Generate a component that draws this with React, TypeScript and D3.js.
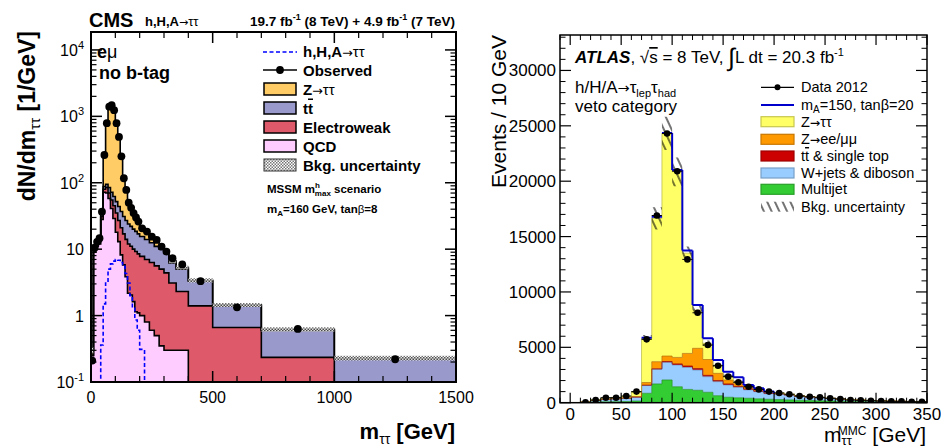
import React from "react";
import * as d3 from "d3";

// ---------------- CMS panel (left) ----------------
const cmsEdges = [0, 10, 20, 30, 40, 50, 60, 70, 80, 90, 100, 110, 120, 130, 140, 150, 160, 170, 180, 190, 200, 220, 240, 260, 280, 300, 320, 350, 400, 500, 700, 1000, 1500];
const cmsData = [0.21, 10.5, 12.9, 14.6, 36.7, 262, 790, 1400, 1470, 1240, 790, 490, 250, 117, 78, 50, 42, 35, 30, 26, 20.6, 18.4, 15.4, 13.8, 10.9, 9.2, 7.3, 5.9, 3.3, 1.33, 0.63, 0.22];
const cmsQCD = [0.25, 9, 11, 12, 28, 72, 70, 58, 41, 29, 18, 13, 8.2, 5.8, 3.85, 2.17, 2.04, 1.62, 1.14, 1.1, 1.0, 0.8, 0.6, 0.5, 0.35, 0.3, 0.3, 0.3, 0, 0, 0, 0];
const cmsEWK = [0, 0.6, 0.8, 1.0, 3, 8, 15, 12, 14, 16, 17, 14, 12.8, 11.2, 10.2, 9.8, 9.0, 8.4, 8.1, 7.4, 6.8, 6.2, 5.7, 5.1, 4.65, 4.1, 2.8, 2.0, 1.4, 0.66, 0.235, 0.02];
const cmsTT = [0, 0.4, 0.6, 1.0, 3, 8, 10, 15, 17, 17, 17, 17, 16, 14, 13, 12, 11, 10, 9.3, 8.5, 7.7, 7.0, 6.2, 5.4, 5.0, 4.4, 3.1, 2.7, 1.9, 0.74, 0.365, 0.2];
const cmsZTT = [0.05, 0.5, 0.6, 1.0, 4, 162, 705, 1295, 1378, 1168, 748, 436, 213, 89, 51, 28, 20, 15, 11.5, 8, 5.5, 4, 3, 2.5, 1.5, 0.8, 0.4, 0.3, 0.1, 0.05, 0.02, 0.01];
const cmsSignal = [0.01, 0.01, 0.01, 0.01, 0.36, 1.5, 3.1, 5.0, 6.0, 6.6, 7.0, 6.8, 6.3, 5.5, 4.3, 3.1, 2.0, 1.3, 0.86, 0.6, 0.31, 0.01, 0.01, 0.01, 0.01, 0.01, 0.01, 0.01, 0.01, 0.01, 0.01, 0.01];
const cmsUncFrac = [0.1, 0.06, 0.06, 0.06, 0.05, 0.04, 0.03, 0.03, 0.03, 0.03, 0.03, 0.03, 0.04, 0.04, 0.05, 0.05, 0.05, 0.05, 0.05, 0.05, 0.06, 0.06, 0.06, 0.06, 0.07, 0.07, 0.07, 0.07, 0.07, 0.07, 0.08, 0.08];
const cmsXTicks = [0, 500, 1000, 1500];
const cmsYExps = [-1, 0, 1, 2, 3, 4];
const cmsColors = ["#ffccff", "#de5a6a", "#9999cc", "#ffcc66"];

// ---------------- ATLAS panel (right) ----------------
const atlasEdges = [0, 10, 20, 30, 40, 50, 60, 70, 80, 90, 100, 110, 120, 130, 140, 150, 160, 170, 180, 190, 200, 210, 220, 230, 240, 250, 260, 270, 280, 290, 300, 310, 320, 330, 340, 350];
const atlasData = [null, 30, 240, 450, 450, 600, 1000, 5720, 16900, 24300, 20900, 12940, 8120, 5210, 3340, 2350, 1840, 1440, 1200, 1000, 880, 760, 600, 540, 480, 400, 340, 240, 210, 180, 150, 120, 120, 90, 90];
const atlasMultijet = [0, 30, 60, 80, 90, 110, 150, 850, 1690, 2050, 1440, 1200, 1120, 940, 630, 490, 440, 400, 350, 310, 280, 250, 220, 190, 170, 150, 130, 110, 100, 90, 80, 70, 60, 55, 50];
const atlasWjets = [10, 40, 140, 240, 260, 290, 350, 700, 1320, 1590, 1960, 1990, 1830, 1410, 1270, 1110, 950, 760, 640, 505, 475, 415, 333, 295, 254, 204, 173, 141, 117, 91, 76, 60, 52, 40, 37];
const atlasTop = [0, 0, 0, 0, 0, 5, 10, 30, 50, 80, 100, 120, 130, 120, 100, 90, 80, 70, 60, 50, 45, 40, 35, 30, 28, 25, 22, 20, 18, 16, 14, 12, 11, 10, 9];
const atlasZll = [0, 0, 0, 10, 20, 30, 50, 240, 640, 490, 590, 1140, 1830, 1430, 650, 360, 280, 200, 150, 100, 60, 50, 40, 35, 30, 25, 20, 15, 12, 10, 8, 6, 5, 4, 3];
const atlasZtt = [10, 10, 80, 90, 110, 165, 430, 3990, 12940, 20100, 16760, 9050, 3460, 1460, 750, 360, 150, 40, 30, 25, 20, 15, 12, 10, 8, 6, 5, 4, 3, 3, 2, 2, 2, 1, 1];
const atlasSignal = [0, 0, 0, 0, 0, 0, 0, 50, 150, 50, 150, 250, 450, 450, 450, 390, 390, 130, 80, 30, 0, 0, 0, 0, 0, 0, 0, 0, 0, 0, 0, 0, 0, 0, 0];
const atlasUnc = [5, 10, 20, 25, 30, 40, 60, 300, 1000, 1500, 1300, 600, 400, 250, 180, 120, 90, 70, 60, 50, 40, 35, 30, 25, 20, 18, 15, 12, 10, 9, 8, 7, 6, 5, 5];
const atlasXTicks = [0, 50, 100, 150, 200, 250, 300, 350];
const atlasYTicks = [0, 5000, 10000, 15000, 20000, 25000, 30000];
const atlasColors = ["#33cc33", "#99ccff", "#cc0000", "#ff9900", "#ffff66"];

const FONT = "'Liberation Sans', Arial, Helvetica, sans-serif";
const SYM = "'DejaVu Sans', sans-serif";

type Scale = (v: number) => number;

function stackLayers(layers: number[][]) {
  const out: [number[], number[]][] = [];
  let acc = layers[0].map(() => 0);
  for (const l of layers) {
    const hi = acc.map((a, i) => a + l[i]);
    out.push([acc, hi]);
    acc = hi;
  }
  return out;
}

function stepArea(edges: number[], lo: number[], hi: number[], x: Scale, y: Scale) {
  const pts = edges.map((e, i) => {
    const j = Math.min(i, lo.length - 1);
    return [e, lo[j], hi[j]];
  });
  return d3
    .area<number[]>()
    .x((d) => x(d[0]))
    .y0((d) => y(d[1]))
    .y1((d) => y(d[2]))
    .curve(d3.curveStepAfter)(pts) as string;
}

function stepLine(edges: number[], vals: number[], x: Scale, y: Scale, base: number) {
  const pts: number[][] = [[edges[0], base]];
  edges.forEach((e, i) => pts.push([e, vals[Math.min(i, vals.length - 1)]]));
  pts.push([edges[edges.length - 1], base]);
  return d3
    .line<number[]>()
    .x((d) => x(d[0]))
    .y((d) => y(d[1]))
    .curve(d3.curveStepAfter)(pts) as string;
}

const Arrow = ({ size }: { size: number }) => (
  <tspan fontFamily={SYM} fontWeight="normal" fontSize={size * 0.85}>{"\u2192"}</tspan>
);

function CMSPanel() {
  const L = 91, R = 456, T = 32, B = 382;
  const x = d3.scaleLinear().domain([0, 1500]).range([L, R]);
  const yLog = d3.scaleLog().domain([0.1, Math.pow(10, 4.27)]).range([B, T]).clamp(true);
  const y = (v: number) => yLog(Math.max(v, 0.001));
  const stacks = stackLayers([cmsQCD, cmsEWK, cmsTT, cmsZTT]);
  const total = stacks[stacks.length - 1][1];
  const uncLo = total.map((t, i) => t * (1 - cmsUncFrac[i]));
  const uncHi = total.map((t, i) => t * (1 + cmsUncFrac[i]));
  const centers = cmsData.map((_, i) => (cmsEdges[i] + cmsEdges[i + 1]) / 2);

  const minorY: number[] = [];
  for (let e = -1; e <= 4; e++) for (let k = 2; k <= 9; k++) {
    const v = k * Math.pow(10, e);
    if (v < Math.pow(10, 4.27)) minorY.push(v);
  }
  const minorX: number[] = [];
  for (let v = 100; v < 1500; v += 100) if (v % 500 !== 0) minorX.push(v);

  const legendBoxes = [
    { key: "ztt", color: cmsColors[3], cy: 89 },
    { key: "tt", color: cmsColors[2], cy: 108 },
    { key: "ewk", color: cmsColors[1], cy: 127 },
    { key: "qcd", color: cmsColors[0], cy: 146 },
  ];
  const label = (k: string) => {
    if (k === "ztt") return <>Z<Arrow size={15} /><tspan fontWeight="normal">{"\u03c4\u03c4"}</tspan></>;
    if (k === "tt") return <>t<tspan style={{ textDecoration: "overline" }}>t</tspan></>;
    if (k === "ewk") return "Electroweak";
    return "QCD";
  };

  return (
    <g fontFamily={FONT}>
      <defs>
        <clipPath id="cmsClip"><rect x={L} y={T} width={R - L} height={B - T} /></clipPath>
        <pattern id="cmsHatch" width="3" height="3" patternUnits="userSpaceOnUse">
          <rect width="3" height="3" fill="#ffffff" />
          <rect width="1.5" height="1.5" fill="#555" />
          <rect x="1.5" y="1.5" width="1.5" height="1.5" fill="#555" />
        </pattern>
      </defs>
      <g clipPath="url(#cmsClip)">
        {stacks.map(([lo, hi], k) => (
          <path key={"a" + k} d={stepArea(cmsEdges, lo, hi, x, y)} fill={cmsColors[k]} stroke="none" />
        ))}
        {stacks.map(([, hi], k) => (
          <path key={"l" + k} d={stepLine(cmsEdges, hi, x, y, 0.001)} fill="none" stroke="#000" strokeWidth={1.6} />
        ))}
        <path d={stepArea(cmsEdges, uncLo, uncHi, x, y)} fill="url(#cmsHatch)" stroke="none" opacity={0.85} />
        <path d={stepLine(cmsEdges, cmsSignal, x, y, 0.001)} fill="none" stroke="#0000ff" strokeWidth={1.6} strokeDasharray="4,2.5" />
        {cmsData.map((v, i) => (
          <circle key={"d" + i} cx={x(centers[i])} cy={y(v)} r={3.9} fill="#000" />
        ))}
      </g>
      <rect x={L} y={T} width={R - L} height={B - T} fill="none" stroke="#000" strokeWidth={2} />
      {cmsYExps.map((e) => {
        const yy = y(Math.pow(10, e));
        return (
          <g key={"ty" + e}>
            <line x1={L} x2={L + 11} y1={yy} y2={yy} stroke="#000" strokeWidth={1.5} />
            <line x1={R} x2={R - 11} y1={yy} y2={yy} stroke="#000" strokeWidth={1.5} />
          </g>
        );
      })}
      {minorY.map((v, i) => {
        const yy = y(v);
        return (
          <g key={"my" + i}>
            <line x1={L} x2={L + 5.5} y1={yy} y2={yy} stroke="#000" strokeWidth={1.2} />
            <line x1={R} x2={R - 5.5} y1={yy} y2={yy} stroke="#000" strokeWidth={1.2} />
          </g>
        );
      })}
      {cmsXTicks.map((v) => (
        <g key={"tx" + v}>
          <line x1={x(v)} x2={x(v)} y1={B} y2={B - 11} stroke="#000" strokeWidth={1.5} />
          <line x1={x(v)} x2={x(v)} y1={T} y2={T + 11} stroke="#000" strokeWidth={1.5} />
          <text x={x(v)} y={403} fontSize={16} textAnchor="middle">{v}</text>
        </g>
      ))}
      {minorX.map((v) => (
        <g key={"mx" + v}>
          <line x1={x(v)} x2={x(v)} y1={B} y2={B - 6} stroke="#000" strokeWidth={1.2} />
          <line x1={x(v)} x2={x(v)} y1={T} y2={T + 6} stroke="#000" strokeWidth={1.2} />
        </g>
      ))}
      {cmsYExps.map((e) => (
        <text key={"yl" + e} x={84} y={y(Math.pow(10, e)) + 6} fontSize={16} textAnchor="end">
          {e === 0 ? "1" : e === 1 ? "10" : (
            <>
              10<tspan dy={-7} fontSize={11}>{e}</tspan>
            </>
          )}
        </text>
      ))}
      <text x={89} y={27} fontSize={20} fontWeight="bold">CMS</text>
      <text x={145} y={26} fontSize={13} fontWeight="bold">h,H,A<Arrow size={13} /><tspan fontWeight="normal">{"\u03c4\u03c4"}</tspan></text>
      <text x={455} y={26} fontSize={13.5} fontWeight="bold" textAnchor="end">
        19.7 fb<tspan dy={-6} fontSize={9}>-1</tspan>
        <tspan dy={6}> (8 TeV) + 4.9 fb</tspan>
        <tspan dy={-6} fontSize={9}>-1</tspan>
        <tspan dy={6}> (7 TeV)</tspan>
      </text>
      <text x={97} y={58} fontSize={18} fontWeight="bold">e<tspan fontWeight="normal">{"\u03bc"}</tspan></text>
      <text x={99} y={79} fontSize={18} fontWeight="bold">no b-tag</text>
      <line x1={263} x2={297} y1={52} y2={52} stroke="#0000ff" strokeWidth={1.6} strokeDasharray="4,2.5" />
      <text x={303} y={57} fontSize={15} fontWeight="bold">h,H,A<Arrow size={15} /><tspan fontWeight="normal">{"\u03c4\u03c4"}</tspan></text>
      <line x1={263} x2={297} y1={70} y2={70} stroke="#000" strokeWidth={1.6} />
      <circle cx={280} cy={70} r={3.9} fill="#000" />
      <text x={303} y={75.5} fontSize={15} fontWeight="bold">Observed</text>
      {legendBoxes.map((b) => (
        <g key={b.key}>
          <rect x={264} y={b.cy - 6} width={32} height={12} fill={b.color} stroke="#000" strokeWidth={1.5} />
          <text x={303} y={b.cy + 5.5} fontSize={15} fontWeight="bold">{label(b.key)}</text>
        </g>
      ))}
      <rect x={264} y={159} width={32} height={12} fill="url(#cmsHatch)" stroke="#000" strokeWidth={1} opacity={0.8} />
      <text x={303} y={170.5} fontSize={15} fontWeight="bold">Bkg. uncertainty</text>
      <text x={267} y={193} fontSize={11.5} fontWeight="bold">
        MSSM m<tspan dy={-5} fontSize={8}>h</tspan><tspan dx={-5} dy={8} fontSize={8}>max</tspan><tspan dy={-3}> scenario</tspan>
      </text>
      <text x={267} y={213} fontSize={11.5} fontWeight="bold">
        m<tspan dy={3} fontSize={8}>A</tspan><tspan dy={-3}>=160 GeV, tan</tspan><tspan fontWeight="normal">{"\u03b2"}</tspan>=8
      </text>
      <text transform={`translate(35,31) rotate(-90)`} fontSize={23} fontWeight="bold" textAnchor="end">
        dN/dm<tspan dy={5} fontSize={15} fontWeight="normal">{"\u03c4\u03c4"}</tspan><tspan dy={-5}> [1/GeV]</tspan>
      </text>
      <text x={455} y={439} fontSize={22} fontWeight="bold" textAnchor="end">
        m<tspan dy={5} fontSize={14} fontWeight="normal">{"\u03c4\u03c4"}</tspan><tspan dy={-5}> [GeV]</tspan>
      </text>
    </g>
  );
}

function ATLASPanel() {
  const L = 560, R = 927, T = 35, B = 402.7;
  const x = d3.scaleLinear().domain([-10, 350]).range([L, R]);
  const y = d3.scaleLinear().domain([0, 33200]).range([B, T]).clamp(true);
  const stacks = stackLayers([atlasMultijet, atlasWjets, atlasTop, atlasZll, atlasZtt]);
  const total = stacks[stacks.length - 1][1];
  const uncLo = total.map((t, i) => t - atlasUnc[i]);
  const uncHi = total.map((t, i) => t + atlasUnc[i]);

  // signal (stacked on total): tops of bins plus descending connectors
  const sigSegs: string[] = [];
  atlasSignal.forEach((s, i) => {
    if (s <= 0) return;
    const top = total[i] + s;
    sigSegs.push(`M${x(atlasEdges[i])},${y(top)}H${x(atlasEdges[i + 1])}`);
    const nextTop = atlasSignal[i + 1] > 0 ? total[i + 1] + atlasSignal[i + 1] : total[i + 1];
    if (nextTop < top) sigSegs.push(`M${x(atlasEdges[i + 1])},${y(top)}V${y(nextTop)}`);
  });

  const minorX: number[] = [];
  for (let v = -10; v <= 350; v += 10) if (v % 50 !== 0) minorX.push(v);
  const minorY: number[] = [];
  for (let v = 1000; v < 33200; v += 1000) if (v % 5000 !== 0) minorY.push(v);

  const legY = [87.3, 105, 121.7, 139.3, 156, 173, 189.3, 206.7];
  const legendBoxes = [
    { key: "ztt", color: atlasColors[4], cy: legY[2] },
    { key: "zll", color: atlasColors[3], cy: legY[3] },
    { key: "top", color: atlasColors[2], cy: legY[4] },
    { key: "wj", color: atlasColors[1], cy: legY[5] },
    { key: "mj", color: atlasColors[0], cy: legY[6] },
  ];
  const label = (k: string) => {
    if (k === "ztt") return <>Z<Arrow size={14.5} />{"\u03c4\u03c4"}</>;
    if (k === "zll") return <>Z<Arrow size={14.5} />ee/{"\u03bc\u03bc"}</>;
    if (k === "top") return <>t<tspan style={{ textDecoration: "overline" }}>t</tspan> &amp; single top</>;
    if (k === "wj") return "W+jets & diboson";
    return "Multijet";
  };

  return (
    <g fontFamily={FONT}>
      <defs>
        <clipPath id="atlasClip"><rect x={L} y={T} width={R - L} height={B - T} /></clipPath>
        <pattern id="atlasHatch" width="7" height="7" patternUnits="userSpaceOnUse" patternTransform="rotate(-25)">
          <line x1="1" y1="0" x2="1" y2="7" stroke="#000" strokeWidth="1.1" />
        </pattern>
      </defs>
      <g clipPath="url(#atlasClip)">
        {stacks.map(([lo, hi], k) => (
          <path key={"a" + k} d={stepArea(atlasEdges, lo, hi, x, y)} fill={atlasColors[k]} stroke="none" />
        ))}
        {stacks.map(([, hi], k) => (
          <path key={"l" + k} d={stepLine(atlasEdges, hi, x, y, 0)} fill="none"
            stroke={(d3.color(atlasColors[k]) as any).darker(0.9).toString()} strokeWidth={1} opacity={0.75} />
        ))}
        <path d={stepArea(atlasEdges, uncLo, uncHi, x, y)} fill="url(#atlasHatch)" stroke="none" />
        <path d={sigSegs.join("")} fill="none" stroke="#0000cc" strokeWidth={2} />
        {atlasData.map((v, i) => {
          if (v === null) return null;
          const cx = x((atlasEdges[i] + atlasEdges[i + 1]) / 2);
          const err = Math.sqrt(v);
          return (
            <g key={"d" + i}>
              <line x1={x(atlasEdges[i])} x2={x(atlasEdges[i + 1])} y1={y(v)} y2={y(v)} stroke="#000" strokeWidth={1} />
              <line x1={cx} x2={cx} y1={y(v - err)} y2={y(v + err)} stroke="#000" strokeWidth={1} />
              <circle cx={cx} cy={y(v)} r={3.3} fill="#000" />
            </g>
          );
        })}
      </g>
      <rect x={L} y={T} width={R - L} height={B - T} fill="none" stroke="#000" strokeWidth={1.5} />
      {atlasXTicks.map((v) => (
        <g key={"tx" + v}>
          <line x1={x(v)} x2={x(v)} y1={B} y2={B - 10} stroke="#000" strokeWidth={1.2} />
          <line x1={x(v)} x2={x(v)} y1={T} y2={T + 10} stroke="#000" strokeWidth={1.2} />
          <text x={x(v)} y={420} fontSize={17} textAnchor="middle">{v}</text>
        </g>
      ))}
      {minorX.map((v) => (
        <g key={"mx" + v}>
          <line x1={x(v)} x2={x(v)} y1={B} y2={B - 5} stroke="#000" strokeWidth={1} />
          <line x1={x(v)} x2={x(v)} y1={T} y2={T + 5} stroke="#000" strokeWidth={1} />
        </g>
      ))}
      {atlasYTicks.map((v) => (
        <g key={"ty" + v}>
          <line x1={L} x2={L + 11} y1={y(v)} y2={y(v)} stroke="#000" strokeWidth={1.2} />
          <line x1={R} x2={R - 11} y1={y(v)} y2={y(v)} stroke="#000" strokeWidth={1.2} />
          <text x={556} y={y(v) + 6} fontSize={17} textAnchor="end">{v}</text>
        </g>
      ))}
      {minorY.map((v) => (
        <g key={"my" + v}>
          <line x1={L} x2={L + 5.5} y1={y(v)} y2={y(v)} stroke="#000" strokeWidth={1} />
          <line x1={R} x2={R - 5.5} y1={y(v)} y2={y(v)} stroke="#000" strokeWidth={1} />
        </g>
      ))}
      <text x={575} y={63} fontSize={17}>
        <tspan fontWeight="bold" fontStyle="italic">ATLAS</tspan>, {"\u221a"}<tspan style={{ textDecoration: "overline" }}>s</tspan> = 8 TeV,{" "}
        <tspan fontSize={25} dy={3}>{"\u222b"}</tspan>
        <tspan dy={-3}>L dt = 20.3 fb</tspan>
        <tspan dy={-7} fontSize={11}>-1</tspan>
      </text>
      <text x={575} y={93} fontSize={17}>
        h/H/A<Arrow size={17} />{"\u03c4"}<tspan dy={4} fontSize={11}>lep</tspan><tspan dy={-4}>{"\u03c4"}</tspan><tspan dy={4} fontSize={11}>had</tspan>
      </text>
      <text x={575} y={112} fontSize={17}>veto category</text>
      <line x1={761} x2={794} y1={legY[0]} y2={legY[0]} stroke="#000" strokeWidth={1.2} />
      <circle cx={777.5} cy={legY[0]} r={3} fill="#000" />
      <text x={801} y={legY[0] + 5} fontSize={14.5}>Data 2012</text>
      <line x1={761} x2={794} y1={legY[1]} y2={legY[1]} stroke="#0000cc" strokeWidth={2} />
      <text x={801} y={legY[1] + 5} fontSize={14.5}>
        m<tspan dy={3} fontSize={10}>A</tspan><tspan dy={-3}>=150, tan{"\u03b2"}=20</tspan>
      </text>
      {legendBoxes.map((b) => (
        <g key={b.key}>
          <rect x={761} y={b.cy - 5} width={33} height={10} fill={b.color}
            stroke={(d3.color(b.color) as any).darker(0.7).toString()} strokeWidth={1.2} />
          <text x={801} y={b.cy + 5} fontSize={14.5}>{label(b.key)}</text>
        </g>
      ))}
      <rect x={761} y={legY[7] - 5} width={33} height={10} fill="url(#atlasHatch)" />
      <text x={801} y={legY[7] + 5} fontSize={14.5}>Bkg. uncertainty</text>
      <text transform={`translate(506,35) rotate(-90)`} fontSize={21} textAnchor="end">Events / 10 GeV</text>
      <text x={926} y={442} fontSize={21} textAnchor="end">
        m<tspan dy={3} fontSize={13}>{"\u03c4\u03c4"}</tspan><tspan dx={-14} dy={-10} fontSize={12}>MMC</tspan><tspan dy={7}> [GeV]</tspan>
      </text>
    </g>
  );
}

export default function App() {
  return (
    <svg width={941} height={448} viewBox="0 0 941 448"
      style={{ position: "absolute", left: 0, top: 0, background: "#fff" }}>
      <rect x={0} y={0} width={941} height={448} fill="#fff" />
      <CMSPanel />
      <ATLASPanel />
    </svg>
  );
}
